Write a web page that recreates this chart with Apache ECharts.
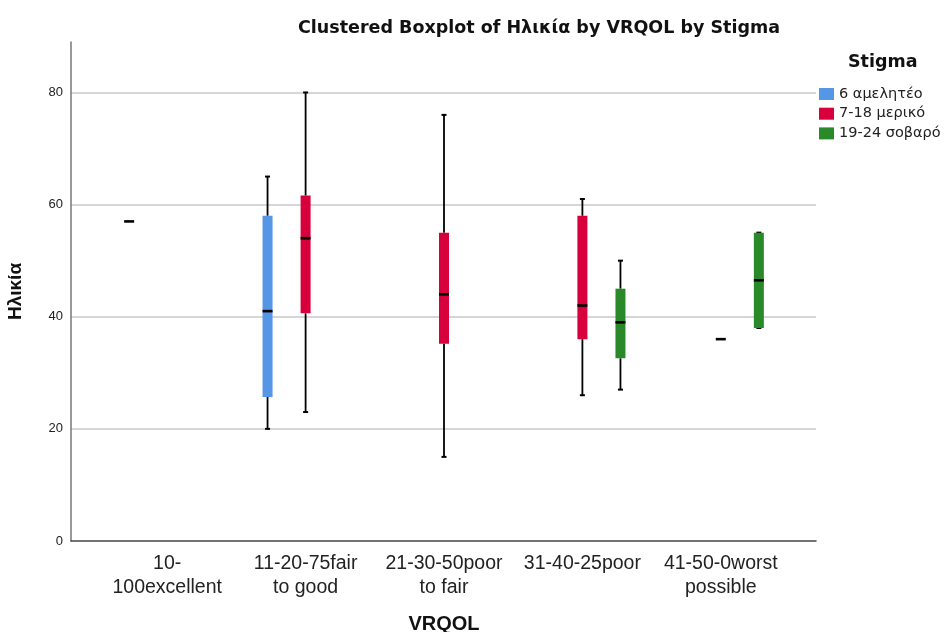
<!DOCTYPE html>
<html>
<head>
<meta charset="utf-8">
<script src="https://cdn.jsdelivr.net/npm/echarts@6/dist/echarts.min.js"></script>
<style>html,body{margin:0;padding:0;background:#fff}#c{width:944px;height:632px}</style>
</head>
<body>
<div id="c"></div>
<script>
// Categories (x tick labels)
const categories = ['10-\n100excellent', '11-20-75fair\nto good', '21-30-50poor\nto fair', '31-40-25poor', '41-50-0worst\npossible'];
// Legend groups
const groupNames = ['6 αμελητέο', '7-18 μερικό', '19-24 σοβαρό'];
// Five-number summaries per category: [min, Q1, median, Q3, max]; null = no data
const stigma6 = [[57, 57, 57, 57, 57], [20, 25.7, 41, 58, 65], null, null, null];
const stigma7_18 = [null, [23, 40.6, 54, 61.6, 80], [15, 35.2, 44, 55, 76], [26, 36, 42, 58, 61], [36, 36, 36, 36, 36]];
const stigma19_24 = [null, null, null, [27, 32.6, 39, 45, 50], [38, 38, 46.5, 55, 55]];
// Y tick settings
const yMin = 0, yMax = 89, yInterval = 20;

const groupData = [stigma6, stigma7_18, stigma19_24];
const colors = ['#5596E6', '#D7003C', '#2A8A2A'];
const font = 'Arial, "Liberation Sans", sans-serif';
const wideFont = '"DejaVu Sans", Arial, sans-serif';

function makeSeries(gi) {
  const data = [];
  groupData[gi].forEach((v, ci) => { if (v) data.push([ci].concat(v)); });
  return {
    type: 'custom',
    name: groupNames[gi],
    xAxisIndex: 1, yAxisIndex: 1,
    itemStyle: { color: colors[gi] },
    encode: { x: 0, y: [1, 2, 3, 4, 5] },
    data: data,
    renderItem: function (params, api) {
      const ci = api.value(0);
      const band = api.size([1, 0])[0];
      const off = (gi - 1) * band * 0.275;
      const x = api.coord([ci, 0])[0] + off;
      const y = [1, 2, 3, 4, 5].map(k => api.coord([ci, api.value(k)])[1]);
      const hw = 5;
      const children = [];
      if (api.value(1) !== api.value(5)) {
        children.push({ type: 'line', shape: { x1: x, y1: y[4], x2: x, y2: y[3] }, style: { stroke: '#000', lineWidth: 1.8 } });
        children.push({ type: 'line', shape: { x1: x, y1: y[1], x2: x, y2: y[0] }, style: { stroke: '#000', lineWidth: 1.8 } });
        children.push({ type: 'line', shape: { x1: x - 2.5, y1: y[4], x2: x + 2.5, y2: y[4] }, style: { stroke: '#000', lineWidth: 2 } });
        children.push({ type: 'line', shape: { x1: x - 2.5, y1: y[0], x2: x + 2.5, y2: y[0] }, style: { stroke: '#000', lineWidth: 2 } });
        children.push({ type: 'rect', shape: { x: x - hw, y: y[3], width: hw * 2, height: y[1] - y[3] }, style: { fill: colors[gi] } });
      }
      children.push({ type: 'line', shape: { x1: x - hw, y1: y[2], x2: x + hw, y2: y[2] }, style: { stroke: '#000', lineWidth: 2.6 } });
      return { type: 'group', children: children };
    }
  };
}

const chart = echarts.init(document.getElementById('c'));
chart.setOption({
  animation: false,
  backgroundColor: '#fff',
  title: [
    { text: 'Clustered Boxplot of Ηλικία by VRQOL by Stigma', left: 293, top: 14,
      textStyle: { fontFamily: wideFont, fontSize: 17.5, fontWeight: 'bold', color: '#111' } },
    { text: 'Stigma', left: 843, top: 48,
      textStyle: { fontFamily: wideFont, fontSize: 17.5, fontWeight: 'bold', color: '#111' } }
  ],
  legend: {
    orient: 'vertical', left: 819, top: 86.5, padding: 0,
    itemWidth: 15, itemHeight: 12, itemGap: 4.7,
    icon: 'rect',
    data: groupNames,
    textStyle: { fontFamily: wideFont, fontSize: 14.5, lineHeight: 14, color: '#222' }
  },
  grid: [
    { left: 71, right: 128, top: 42, bottom: 91, outerBoundsMode: 'none' },
    { left: 98, right: 154, top: 42, bottom: 91, outerBoundsMode: 'none' }
  ],
  xAxis: [
    {
      type: 'value', gridIndex: 0, min: 0, max: 1,
      axisLine: { show: true, lineStyle: { color: '#444', width: 1.5 } },
      axisTick: { show: false }, axisLabel: { show: false }, splitLine: { show: false }
    },
    {
      type: 'category', gridIndex: 1,
      data: categories,
      name: 'VRQOL', nameLocation: 'middle', nameGap: 73,
      nameTextStyle: { fontFamily: font, fontSize: 20, fontWeight: 'bold', color: '#111' },
      boundaryGap: true,
      axisLine: { show: false },
      axisTick: { show: false },
      axisLabel: { fontFamily: font, fontSize: 19.5, color: '#222', lineHeight: 24, margin: 11, interval: 0 },
      splitLine: { show: false }
    }
  ],
  yAxis: [
    {
      type: 'value', gridIndex: 0, min: yMin, max: yMax, interval: yInterval,
      name: 'Ηλικία', nameLocation: 'middle', nameGap: 46,
      nameTextStyle: { fontFamily: font, fontSize: 19, fontWeight: 'bold', color: '#111' },
      axisLine: { show: true, lineStyle: { color: '#777', width: 1.5 } },
      axisTick: { show: false },
      axisLabel: { fontFamily: font, fontSize: 13, color: '#222', margin: 8, showMaxLabel: false },
      splitLine: { show: true, showMinLine: false, showMaxLine: false, lineStyle: { color: '#C8C8C8', width: 1.5 } }
    },
    {
      type: 'value', gridIndex: 1, min: yMin, max: yMax, interval: yInterval, show: false,
      splitLine: { show: false }
    }
  ],
  series: [makeSeries(0), makeSeries(1), makeSeries(2)]
});
</script>
</body>
</html>
